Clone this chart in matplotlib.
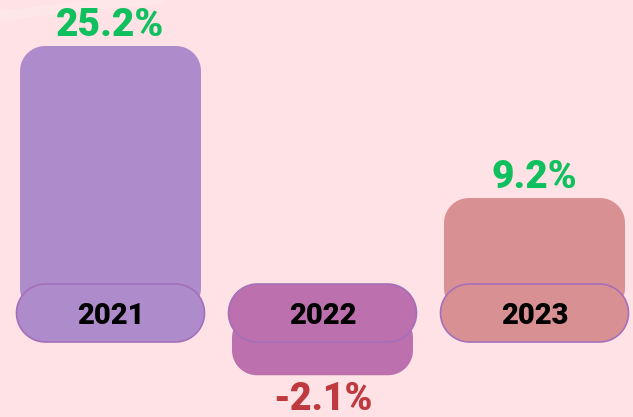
import numpy as np
import matplotlib.pyplot as plt
from matplotlib.patches import Polygon

# data
years = ["2021", "2022", "2023"]
growth = [25.2, -2.1, 9.2]
bar_colors = ["#AE8BCB", "#BC70AE", "#D99093"]
pos_color = "#10BF5E"
neg_color = "#BF3A3E"

W, H = 633, 417
fig = plt.figure(figsize=(W / 100, H / 100), dpi=100)
fig.patch.set_facecolor("#FEE2E5")
ax = fig.add_axes([0, 0, 1, 1])
ax.set_facecolor("#FEE2E5")

# scales: 212 px per category, 9.5 px per percent, zero at y=313 px
px_x = 212.0
px_y = 9.5
ax.set_xlim(-110.5 / px_x, (W - 110.5) / px_x)
ax.set_ylim(-(H - 313) / px_y, 313 / px_y)
ax.axis("off")


def rounded(xc, y0, y1, w_px, r_px):
    # rounded rectangle with true circular corners, radius given in pixels
    t = np.linspace(0, np.pi / 2, 20)
    hw = w_px / 2
    pts = []
    for cx, cy, a0 in [(hw - r_px, y1 - r_px / px_y, 0),
                       (-hw + r_px, y1 - r_px / px_y, np.pi / 2),
                       (-hw + r_px, y0 + r_px / px_y, np.pi),
                       (hw - r_px, y0 + r_px / px_y, 1.5 * np.pi)]:
        for a in a0 + t:
            pts.append((xc + (cx + r_px * np.cos(a)) / px_x, cy + r_px * np.sin(a) / px_y))
    return pts


# faint decorative band in the top-left corner
cx = np.linspace(0, 260, 60)
cy = -6 + 22 * ((260 - cx) / 260) ** 1.5
ax.plot((cx - 110.5) / px_x, (313 - cy) / px_y, color="white", lw=7, alpha=0.18,
        solid_capstyle="butt", zorder=1)

pill_h = 58
pill_w = 188
bar_w = 181
neg_pad = 1.4

for i, (yr, v, c) in enumerate(zip(years, growth, bar_colors)):
    if v >= 0:
        y0, y1 = 0, pill_h / 2 / px_y + v - 0.15
    else:
        y0, y1 = v - pill_h / 2 / px_y - neg_pad, 0
    ax.add_patch(Polygon(rounded(i, y0, y1, bar_w, 25), closed=True,
                         fc=c, ec="none", zorder=2))
    ax.add_patch(Polygon(rounded(i, -pill_h / 2 / px_y, pill_h / 2 / px_y, pill_w, pill_h / 2),
                         closed=True, fc=c, ec="#A66FB9", lw=1.2, zorder=3))
    ax.text(i, 0, yr, ha="center", va="center_baseline", fontsize=21,
            fontweight="heavy", family="Roboto", color="black", zorder=4)
    if v >= 0:
        ax.annotate(f"{v}%", (i, y1), xytext=(0, 7), textcoords="offset points",
                    ha="center", va="baseline", fontsize=28, fontweight="heavy",
                    family="Roboto", color=pos_color)
    else:
        ax.annotate(f"{v}%", (i, y0), xytext=(0, -4), textcoords="offset points",
                    ha="center", va="top", fontsize=27, fontweight="heavy",
                    family="Roboto", color=neg_color)

fig.savefig("out.png", dpi=100, facecolor=fig.get_facecolor())
